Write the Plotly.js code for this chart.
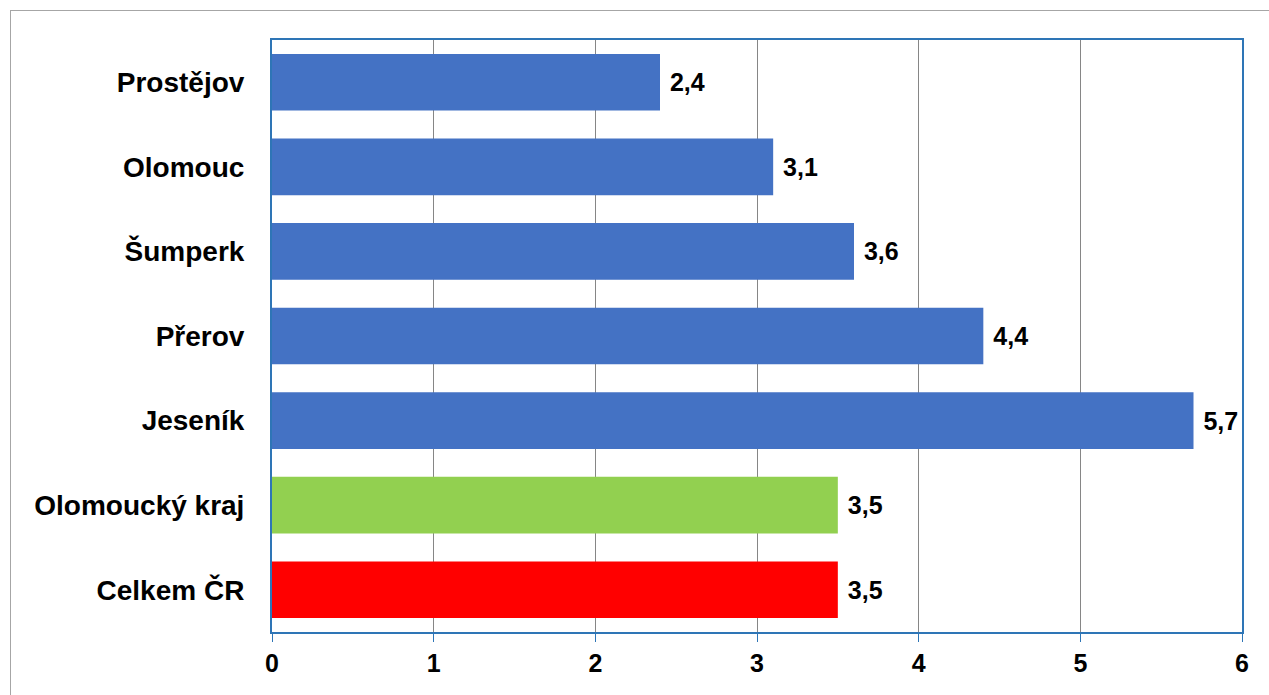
<!DOCTYPE html>
<html><head><meta charset="utf-8">
<script src="https://cdn.plot.ly/plotly-3.0.1.min.js"></script>
<style>
body{margin:0;background:#fff}
#frame{position:absolute;left:10px;top:10px;width:1258px;height:690px;border:1px solid #a6a6a6;border-right:none;border-bottom:none}
#chart{position:absolute;left:0;top:0;width:1269px;height:695px}
</style></head><body>
<div id="frame"></div>
<div id="chart"></div>
<script>
var regions = ['Celkem ČR', 'Olomoucký kraj', 'Jeseník', 'Přerov', 'Šumperk', 'Olomouc', 'Prostějov'];
var values = [3.5, 3.5, 5.7, 4.4, 3.6, 3.1, 2.4];
var colors = ['#ff0000', '#92d050', '#4472c4', '#4472c4', '#4472c4', '#4472c4', '#4472c4'];
var labels = values.map(function (v) { return ' <b>' + v.toFixed(1).replace('.', ',') + '</b>'; });

Plotly.newPlot('chart', [{
    type: 'bar', orientation: 'h',
    y: regions, x: values,
    marker: {color: colors},
    width: 0.67,
    text: labels, textposition: 'outside', cliponaxis: false,
    textfont: {family: 'Liberation Sans, Arial', size: 25, color: '#000'}
}], {
    width: 1269, height: 695,
    margin: {l: 272, r: 27, t: 40, b: 63},
    paper_bgcolor: 'rgba(0,0,0,0)', plot_bgcolor: 'rgba(0,0,0,0)',
    showlegend: false,
    font: {family: 'Liberation Sans, Arial', size: 25, color: '#000'},
    xaxis: {range: [0, 6], dtick: 1, showgrid: true, gridcolor: '#868686', gridwidth: 1,
        zeroline: false, showline: true, mirror: true, linecolor: '#2e75b6', linewidth: 2,
        ticks: 'outside', ticklen: 8, tickcolor: '#2e75b6',
        tickfont: {size: 25}, tickprefix: '<b>', ticksuffix: '</b>'},
    yaxis: {showline: true, mirror: true, linecolor: '#2e75b6', linewidth: 2,
        ticks: '', ticklabelstandoff: 20,
        tickprefix: '<b>', ticksuffix: '</b>', tickfont: {size: 28}}
}, {displayModeBar: false});
</script>
</body></html>
